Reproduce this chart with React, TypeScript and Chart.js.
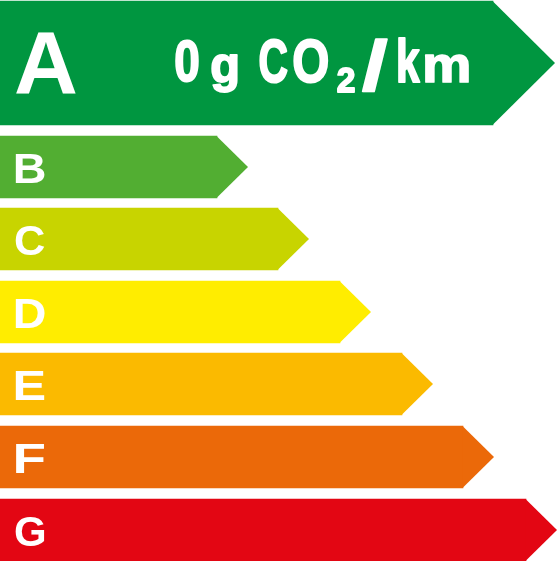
import { useEffect, useRef } from 'react';
import { Chart, registerables } from 'chart.js';

Chart.register(...registerables);

// energy classes, top to bottom
const grades = ['A', 'B', 'C', 'D', 'E', 'F', 'G'];
// end of the straight part of each arrow (x value)
const barEnds = [493, 217, 278, 340, 402, 463, 526];
// middle of each row (y value, counted from the top)
const rowCenters = [63, 167, 239, 312, 384, 457, 530];
const gradeColors = ['#009640', '#52ae32', '#c8d400', '#ffed00', '#fbba00', '#eb6909', '#e30613'];
// text on the A arrow, one glyph at a time
const emissionGlyphs = ['0', 'g', 'C', 'O', '2', '/', 'k', 'm'];

const FONT = '"Liberation Sans", Arial, sans-serif';

// glyph boxes on the A arrow: [left, right, top, bottom], top/bottom relative to the row middle
const glyphBoxes = [
  [175, 199, -23, 20],
  [211, 238, -8, 30],
  [259, 288, -24, 21],
  [293, 329, -24, 21],
  [337, 355, 4, 30],
  [361, 389, -25, 30],
  [398, 421, -25, 20],
  [424, 469, -8, 20],
];

// draw text so that its ink fills the box x0..x1, top..bottom
function fitBox(ctx, text, x0, x1, top, bottom, font, thicken = 0) {
  const inset = thicken / 2;
  x0 += inset; x1 -= inset; top += inset; bottom -= inset;
  ctx.font = font;
  const m = ctx.measureText(text);
  const w = m.actualBoundingBoxLeft + m.actualBoundingBoxRight;
  const h = m.actualBoundingBoxAscent + m.actualBoundingBoxDescent;
  const sx = (x1 - x0) / w;
  const sy = (bottom - top) / h;
  ctx.save();
  ctx.translate(x0, top);
  ctx.scale(sx, sy);
  ctx.fillText(text, m.actualBoundingBoxLeft, m.actualBoundingBoxAscent);
  if (thicken > 0) {
    ctx.lineJoin = 'round';
    ctx.strokeStyle = ctx.fillStyle;
    ctx.lineWidth = thicken / Math.sqrt(sx * sy);
    ctx.strokeText(text, m.actualBoundingBoxLeft, m.actualBoundingBoxAscent);
  }
  ctx.restore();
}

const arrowPlugin = {
  id: 'arrowPlugin',
  afterDatasetsDraw(chart) {
    const ctx = chart.ctx;
    ctx.save();
    ctx.textAlign = 'left';
    ctx.textBaseline = 'alphabetic';
    chart.data.datasets.forEach((ds, di) => {
      const meta = chart.getDatasetMeta(di);
      meta.data.forEach((bar, i) => {
        const { x, y, height, base } = bar.getProps(['x', 'y', 'height', 'base'], true);
        const half = height / 2;
        // arrow tip
        ctx.fillStyle = ds.backgroundColor[i];
        ctx.beginPath();
        ctx.moveTo(x - 0.5, y - half);
        ctx.lineTo(x + half, y);
        ctx.lineTo(x - 0.5, y + half);
        ctx.closePath();
        ctx.fill();

        // class letter
        const letter = ds.grades[i];
        ctx.fillStyle = '#ffffff';
        if (letter === 'A') {
          fitBox(ctx, letter, base + 16, base + 76, y - 30, y + 32, 'bold 87px ' + FONT);
        } else {
          fitBox(ctx, letter, base + 15, base + 45, y - 14, y + 16, 'bold 42px ' + FONT);
        }
      });
    });

    // emission text on the A arrow
    const ay = chart.getDatasetMeta(0).data[0].y;
    ctx.fillStyle = '#ffffff';
    emissionGlyphs.forEach((g, i) => {
      const [l, r, t, b] = glyphBoxes[i];
      fitBox(ctx, g, l, r, ay + t, ay + b, 'bold 60px ' + FONT, 1.8);
    });
    ctx.restore();
  },
};

export default function App() {
  const canvasRef = useRef<HTMLCanvasElement | null>(null);
  const chartRef = useRef<Chart | null>(null);

  useEffect(() => {
    document.body.style.margin = '0';
    const ctx = canvasRef.current?.getContext('2d');
    if (!ctx) return;

    const toPoints = (from, to) =>
      barEnds.slice(from, to).map((v, i) => ({ x: v, y: rowCenters[from + i] }));

    chartRef.current = new Chart(ctx, {
      type: 'bar',
      data: {
        datasets: [
          {
            data: toPoints(0, 1),
            grades: grades.slice(0, 1),
            backgroundColor: gradeColors.slice(0, 1),
            barThickness: 124,
            grouped: false,
            borderWidth: 0,
          },
          {
            data: toPoints(1, 7),
            grades: grades.slice(1),
            backgroundColor: gradeColors.slice(1),
            barThickness: 62,
            grouped: false,
            borderWidth: 0,
          },
        ],
      },
      options: {
        indexAxis: 'y',
        animation: false,
        responsive: true,
        maintainAspectRatio: false,
        layout: { padding: 0 },
        plugins: { legend: { display: false }, tooltip: { enabled: false } },
        scales: {
          x: { type: 'linear', min: 0, max: 560, display: false, offset: false },
          y: { type: 'linear', min: 0, max: 561, reverse: true, display: false, offset: false },
        },
      },
      plugins: [arrowPlugin],
    });
    return () => chartRef.current?.destroy();
  }, []);

  return (
    <div style={{ width: 560, height: 561, position: 'relative', background: '#ffffff' }}>
      <canvas ref={canvasRef} />
    </div>
  );
}
